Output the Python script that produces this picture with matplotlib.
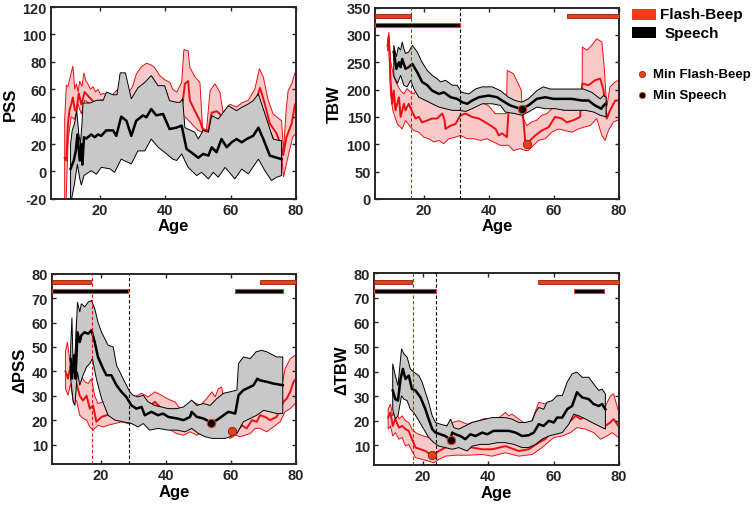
import numpy as np
import matplotlib
matplotlib.use("Agg")
import matplotlib.pyplot as plt
from matplotlib.patches import Rectangle
from matplotlib.lines import Line2D

plt.rcParams['font.family'] = ['Liberation Sans', 'DejaVu Sans']
plt.rcParams['font.weight'] = 'bold'
plt.rcParams['axes.unicode_minus'] = False

# ---------------- PSS ----------------
pss_fb_hi_age = [9.2, 9.7, 10.2, 11.0, 11.7, 12.3, 12.8, 13.3, 13.8, 14.5, 15.1, 15.7, 16.3, 17.1, 17.9, 18.6,
                 19.4, 20.2, 21.0, 22.3, 23.5, 25.0, 26.5, 28.6, 30.0, 31.1, 32.5, 34.2, 35.5, 36.7, 38.3, 39.8,
                 41.4, 42.3, 43.5, 45.0, 45.7, 47.0, 47.5, 49.1, 50.6, 51.4, 52.6, 53.7, 55.2, 56.7, 57.7, 59.8,
                 61.8, 63.4, 65.4, 67.4, 68.8, 70.0, 71.5, 73.0, 75.6, 76.2, 77.0, 77.6, 78.7, 79.7, 80.0]
pss_fb_hi = [38, 63, 62, 70, 77, 60, 64, 58, 66, 62, 72, 66, 64, 60, 62, 58,
             60, 56, 57, 56, 55, 59, 62, 57, 62, 71, 76, 79, 78, 76, 70, 67,
             65, 60, 58, 65, 89, 88, 76, 69, 65, 32, 30, 59, 64, 58, 43, 49,
             47, 50, 52, 60, 75, 69, 52, 42, 37, 15, 45, 59, 64, 72, 72]
pss_fb_mean_age = [9.2, 9.7, 10.2, 10.7, 11.2, 11.7, 12.3, 12.8, 13.5, 14.3, 15.3, 16.8, 18.4, 20.4, 23, 26, 30,
                   34, 38, 42, 45.3, 46.0, 47.0, 47.5, 49.1, 50.6, 51.6, 53.2, 54.2, 55.7, 56.7, 57.7, 60, 63, 66,
                   67.4, 69.0, 70.5, 72, 74, 75.3, 76.1, 77.1, 78.7, 79.7, 80]
pss_fb_mean = [10, 8, 35, 45, 49, 54, 45, 44, 57, 49, 58, 54, 50, 52, 50, 48, 50,
               55, 55, 50, 50, 64, 66, 52, 44, 37, 30, 30, 43, 44, 42, 38, 40, 42, 44,
               49, 61, 49, 35, 28, 20, 12, 25, 35, 49, 50]
pss_fb_lo_age = [9.2, 9.6, 9.9, 10.3, 11.2, 12.2, 13.3, 14.3, 15.3, 17.3, 19.4, 21.4, 25, 30, 35, 40, 44, 45.5,
                 46, 48, 50, 52, 53.5, 55, 57, 60, 64, 68, 70, 72, 74, 75.5, 76.2, 77.5, 79, 80]
pss_fb_lo = [-25, -25, -2, 24, 40, 38, 49, 42, 52, 49, 50, 49, 45, 40, 45, 45, 40, 40,
             40, 35, 30, 28, 28, 38, 36, 40, 45, 50, 45, 30, 20, 15, -4, 10, 25, 28]

pss_sp_hi_age = [11.0, 11.5, 12.2, 12.9, 13.5, 14.0, 14.5, 14.8, 15.5, 17.0, 19.0, 21.0, 22.0, 24.0, 25.2, 26.2,
                 27.8, 29.6, 31.6, 33.7, 35.7, 37.8, 39.8, 41.3, 43.4, 44.5, 45.3, 46.0, 49.0, 50.1, 51.6, 53.2,
                 54.2, 56.2, 59.3, 61.8, 63.4, 65.4, 66.9, 68.5, 71.5, 73.0, 75.0, 75.6]
pss_sp_hi = [20, 30, 35, 44, 28, 20, 35, 50, 50, 50, 52, 52, 58, 56, 56, 72,
             72, 53, 61, 65, 70, 62.6, 62.6, 51.7, 50.5, 50.5, 53, 32, 28.6, 23.7, 30, 28.6,
             40.8, 38.3, 48, 44.4, 46.8, 49.3, 51.7, 56.6, 34.7, 23.7, 22.5, 22.5]
pss_sp_mean_age = [11.0, 12.0, 12.6, 13.1, 13.8, 14.3, 14.6, 15.1, 15.8, 17.3, 18.4, 19.4, 20.4, 21.9, 24.0, 25.0,
                   26.5, 28.1, 29.6, 31.1, 33.2, 34.2, 35.7, 37.2, 39.3, 41.3, 43.4, 45.0, 46.5, 48.6, 50.1, 51.6,
                   53.2, 54.2, 55.7, 57.2, 58.8, 60.3, 61.8, 63.4, 64.9, 66.9, 68.5, 70.0, 72.0, 73.6, 75.6]
pss_sp_mean = [2, 8, 15, 27, 8, 20, 5, 25, 24, 27, 25, 27, 26, 30, 30, 26,
               40, 37, 26, 37, 41, 39.5, 45.6, 41, 42, 31, 32, 33.5, 16.5, 12.8, 10, 12.8,
               11.6, 17.7, 14, 23.7, 17.7, 21.3, 23.7, 21.3, 23.7, 26, 32, 23.7, 11.6, 10.4, 9]
pss_sp_lo_age = [11.0, 11.4, 12.2, 13.1, 13.8, 14.3, 15.1, 17.3, 18.9, 20.4, 23.0, 24.5, 26.5, 29.6, 31.6, 33.7,
                 35.7, 37.8, 40.3, 42.3, 43.5, 45.0, 47.0, 49.6, 51.1, 53.2, 54.7, 56.2, 58.3, 61.3, 63.4, 65.4,
                 68.5, 70.5, 72.5, 74.1, 75.6]
pss_sp_lo = [-25, -19, -9, 5.5, -5, -10, -3, 0.6, -2, 3, 2, -0.6, 9, 5.5, 15, 15,
             23.7, 17.7, 13, 9, 8, 12.8, 3, -3, -0.6, -5.4, -0.6, -4.2, 3, -5.4, 1.8, -1.8,
             9, 0.6, -6.6, -4.2, -3]

# ---------------- TBW ----------------
tbw_fb_hi_age = [8.8, 9.2, 9.7, 10.7, 11.8, 12.8, 13.8, 14.8, 15.9, 16.9, 17.9, 18.9, 20.5, 22.5, 24.6, 26.1,
                 27.6, 29.7, 31.2, 32.8, 34.8, 37.9, 39.9, 41.9, 43.9, 45.3, 45.6, 47.5, 48.5, 49.9, 50.3, 51.6,
                 53.2, 54.7, 56.2, 57.8, 59.3, 61.4, 62.9, 65.0, 67.5, 68.6, 68.7, 70.1, 71.6, 73.1, 74.7, 75.5,
                 76.2, 77.2, 78.8, 79.8, 80]
tbw_fb_hi = [290, 305, 253, 223, 208, 198, 192, 202, 195, 192, 201, 186, 183, 180, 177, 174,
             177, 174, 174, 171, 174, 177, 170, 156, 156, 156, 235, 229, 217, 199, 150, 134,
             141, 144, 153, 156, 165, 168, 162, 171, 174, 174, 278, 272, 281, 293, 287, 235,
             168, 205, 214, 217, 217]
tbw_fb_mean_age = [8.8, 9.2, 9.7, 10.2, 10.7, 11.2, 12.3, 12.8, 13.8, 14.3, 15.3, 16.4, 17.4, 18.4, 19.4, 21.0,
                   22.5, 24.0, 25.6, 26.3, 26.6, 28.2, 29.7, 31.2, 32.8, 34.8, 36.9, 38.9, 40.5, 42.0, 43.0, 44.0,
                   45.5, 46.0, 48.0, 50.0, 50.5, 51.2, 52.1, 54.2, 56.2, 58.3, 60.3, 62.4, 63.9, 66.0, 68.0, 68.7,
                   70.6, 72.6, 74.2, 75.2, 76.2, 77.2, 78.8, 79.8, 80]
tbw_fb_mean = [280, 296, 217, 174, 198, 162, 186, 150, 174, 162, 174, 159, 147, 150, 140, 143.5,
               147, 147, 156, 145, 128, 134, 137, 153, 156, 150, 147, 140, 134, 128, 116, 120,
               113, 160, 165, 165, 150, 100, 104, 116, 125, 131, 150, 147, 140, 144, 150, 211,
               208, 217, 220, 199, 147, 162, 180, 180, 180]
tbw_fb_lo_age = [8.8, 9.2, 9.7, 10.4, 11.8, 13.3, 14.3, 15.9, 16.9, 18.4, 19.9, 21.5, 23.0, 24.6, 26.1, 27.6,
                 29.7, 31.2, 33.3, 35.3, 37.4, 39.4, 41.4, 43.5, 46.0, 47.5, 49.6, 51.1, 52.1, 53.7, 55.2, 57.3,
                 59.3, 61.4, 63.4, 65.5, 67.5, 69.0, 71.1, 73.1, 74.7, 75.7, 76.7, 78.3, 79.8, 80]
tbw_fb_lo = [270, 284, 192, 162, 137, 128, 143.5, 131, 125, 122, 113, 110, 104, 107, 101, 110,
             113, 116, 110, 110, 107, 110, 104, 98, 98, 88.5, 92, 88.5, 88.5, 98, 107, 110,
             122, 128, 125, 122, 128, 131, 134, 147, 116, 107, 125, 141, 144, 144]

tbw_sp_hi_age = [10.7, 11.5, 12.1, 12.8, 13.3, 13.8, 14.3, 15.3, 16.4, 17.9, 19.4, 21.0, 22.5, 24.0, 25.1, 26.6,
                 28.7, 30.2, 31.5, 33.8, 35.8, 37.9, 41.0, 43.5, 46.0, 48.0, 50.1, 52.1, 54.7, 56.7, 58.8, 60.8,
                 63.4, 66.5, 69.0, 71.6, 74.2, 75.2, 76.0]
tbw_sp_hi = [281, 260, 278, 272, 287, 275, 266, 269, 281, 269, 250, 235, 226, 220, 214, 217,
             208, 208, 195, 192, 201, 205, 205, 198, 186, 180, 177, 183, 198, 205, 201, 201,
             201, 201, 201, 195, 183, 189, 186]
tbw_sp_mean_age = [10.7, 11.5, 12.3, 12.8, 13.3, 14.3, 15.3, 16.4, 17.9, 19.4, 21.0, 22.5, 24.6, 26.1, 28.2, 30.2,
                   31.7, 33.3, 34.8, 36.9, 39.9, 42.5, 44.0, 46.5, 48.5, 50.1, 52.1, 54.7, 57.3, 59.8, 62.4, 65.5,
                   68.5, 70.6, 72.6, 74.5, 75.7, 76.0]
tbw_sp_mean = [269, 238, 250, 241, 256, 238, 241, 247, 232, 214, 208, 198, 192, 195, 186, 183,
               177, 174, 180, 186, 189, 186, 180, 171, 167, 165, 171, 183, 186, 183, 183, 183,
               180, 180, 171, 165, 174, 174]
tbw_sp_lo_age = [10.7, 11.8, 12.8, 13.8, 14.8, 15.9, 16.9, 18.4, 20.5, 22.5, 24.6, 26.6, 28.7, 30.7, 32.8, 34.8,
                 37.9, 41.0, 43.5, 45.0, 48.0, 50.1, 52.1, 54.7, 57.3, 60.3, 63.4, 66.5, 69.6, 72.1, 74.2, 76.0]
tbw_sp_lo = [226, 211, 226, 208, 205, 217, 201, 186, 180, 174, 168, 165, 162, 162, 160, 165,
             174, 174, 171, 159, 156, 153, 159, 168, 165, 165, 162, 162, 162, 159, 153, 150]

# ---------------- dPSS ----------------
dpss_fb_hi_age = [9.1, 9.7, 10.4, 11.5, 12.2, 12.5, 13.0, 13.5, 14.0, 15.0, 16.1, 17.1, 18.1, 19.1, 20.7, 22.2,
                  23.8, 25.3, 26.8, 28.4, 30.4, 32.5, 34.5, 36.6, 38.6, 40.1, 41.7, 42.8, 44.3, 46.4, 48.4, 50.5,
                  52.5, 54.1, 55.1, 56.1, 57.1, 57.7, 60, 62.8, 64.8, 66.9, 68.4, 70.0, 72.0, 74.0, 75.1, 76.6,
                  78.2, 79.7, 80]
dpss_fb_hi = [48, 52, 45, 41, 49, 61, 53, 41, 38, 35.7, 35, 37, 30, 26.8, 27.5, 26.8,
              26, 24, 23.4, 22.7, 29.5, 31, 29.5, 31.6, 30.2, 29, 28, 27.5, 24.7, 24.7, 27.5, 26,
              28.8, 31.6, 29.5, 32.9, 33.6, 28.8, 25, 22, 24.7, 24.7, 28.2, 27.5, 24.7, 27.5, 30.2, 41,
              45.2, 46.6, 46]
dpss_fb_mean_age = [9.1, 9.9, 10.7, 11.5, 12.5, 13.5, 14.5, 15.6, 16.6, 17.6, 18.6, 20.2, 21.7, 23.2, 24.8, 26.3,
                    27.8, 30.4, 32.5, 34.5, 36.6, 38.6, 40.7, 42.7, 43.3, 45.4, 47.4, 49.5, 51.5, 53.6, 55.6, 57.7,
                    59.2, 60.4, 61.8, 63.3, 64.8, 66.4, 67.9, 68.9, 70.5, 72.0, 74.0, 76.1, 77.1, 78.2, 79.2, 80]
dpss_fb_mean = [40, 37, 42.5, 34.3, 35, 30, 28, 30, 24.7, 26, 19.3, 21.3, 22, 22.7, 22, 20.7,
                21.3, 25.4, 26.8, 25.4, 27.5, 24.7, 23.4, 21.3, 19.3, 20, 21.3, 20.7, 22, 20.7, 23.4, 20.7,
                16.6, 15.6, 15.2, 17.9, 16.6, 20, 19.3, 22, 21.3, 20, 21.3, 27.5, 28.8, 31.6, 35.7, 37]
dpss_fb_lo_age = [9.1, 9.9, 10.7, 11.5, 12.5, 13.5, 14.5, 15.6, 16.6, 17.6, 19.1, 20.7, 22.2, 24.3, 26.3, 28.4,
                  31, 34.5, 37.6, 40.7, 43.2, 45.4, 47.4, 49.5, 51.5, 53.6, 55.6, 57.7, 59.7, 61.3, 62.8, 64.3,
                  65.9, 67.4, 68.9, 71.0, 73.0, 75.1, 76.6, 78.2, 79.7, 80]
dpss_fb_lo = [33, 30.2, 35, 27.5, 28, 22, 20.7, 20, 17.2, 15.9, 17.9, 17.2, 17.9, 18.6, 19.3, 18.6,
              19, 19.3, 17.9, 16.6, 14.5, 13.8, 15.2, 13.8, 15.2, 14.5, 15.9, 14.5, 12.5, 13.8, 13.2, 13.8,
              14.5, 16.6, 16.6, 15.2, 17.2, 19.3, 23.4, 24.7, 26.8, 27]

dpss_sp_hi_age = [10.7, 11.1, 11.5, 12.0, 12.8, 13.5, 14.0, 15.0, 16.1, 17.1, 18.1, 19.1, 20.2, 21.2, 22.2, 23.8,
                  24.8, 25.8, 27.3, 28.9, 29.9, 31.4, 33.0, 34.5, 36.6, 38.6, 40.7, 43.3, 45.4, 47.9, 49.5, 51.5,
                  53.6, 55.6, 57.7, 59.7, 61.8, 62.3, 63.8, 65.9, 67.7, 69.4, 71.0, 72.0, 74.0, 75.9]
dpss_sp_hi = [50, 62, 40, 45, 68.4, 64.3, 67.7, 66.4, 68.4, 69, 65.7, 60.2, 56, 53.4, 50.7, 50,
              42.5, 39.8, 35.7, 31.6, 30.2, 29.5, 30.2, 27.5, 26, 25.4, 24.7, 24.7, 25.4, 28.2, 26, 26.8,
              26, 28.8, 31, 31.6, 32.3, 43.2, 45.9, 45.2, 48, 48.6, 48, 47.3, 45.9, 45.9]
dpss_sp_mean_age = [10.7, 11.1, 11.8, 12.2, 12.8, 13.5, 14.0, 15.0, 16.1, 17.1, 18.1, 19.1, 20.7, 21.7, 23.2, 24.8,
                    26.3, 27.8, 29.4, 30.9, 32.5, 33.5, 35.5, 37.6, 39.1, 40.7, 43.3, 45.4, 47.4, 47.9, 49.5, 51.5,
                    53.8, 55.6, 57.7, 59.2, 61.3, 62.3, 63.8, 65.9, 66.9, 68.1, 68.9, 71.0, 73.0, 75.9]
dpss_sp_mean = [45, 37, 46.6, 37, 56, 52, 54.8, 56, 55.4, 56.8, 52, 45.9, 41, 38.4, 38.4, 34.3,
                31.6, 29.5, 26, 24.7, 25.4, 22, 23.4, 22, 22.7, 21.3, 20.7, 20, 21.3, 23.4, 21.3, 20.7,
                19, 20, 22, 23.4, 22.7, 30.2, 32.3, 33.6, 34.3, 37, 36.3, 35.7, 35, 34.3]
dpss_sp_lo_age = [10.7, 11.5, 12.0, 12.8, 13.5, 14.5, 15.6, 16.6, 17.4, 18.6, 20.2, 22.2, 24.3, 26.8, 29.4, 31.4,
                  33.0, 35.0, 37.6, 40.7, 43.3, 45.9, 47.9, 50.0, 52.0, 54.1, 56.1, 58.2, 59.7, 61.8, 63.8, 65.9,
                  67.9, 70.0, 72.0, 74.0, 75.9]
dpss_sp_lo = [37, 27.5, 26, 39.8, 34.3, 38.4, 41.8, 43.2, 45.2, 37, 28.8, 22, 20, 19.3, 18.6, 17.2,
              18.6, 15.9, 16.6, 15.9, 15.9, 15.2, 16.6, 14.5, 13.2, 12.5, 12.5, 12.5, 13.2, 14.5, 19.3, 20.7,
              22, 24, 23.4, 22.7, 22.7]

# ---------------- dTBW ----------------
dtbw_fb_hi_age = [9.3, 10.0, 10.7, 11.5, 12.6, 13.6, 14.6, 15.6, 16.6, 17.7, 18.7, 20.2, 21.7, 23.3, 24.8, 26.8,
                  28.9, 30.9, 33.5, 35.0, 37.0, 39.0, 41.0, 43.0, 45.2, 46.2, 47.2, 49.3, 51.0, 53.0, 55.4, 57.4,
                  60.0, 61.5, 63.6, 65.6, 67.1, 68.7, 70.2, 71.7, 73.8, 75.8, 77.3, 78.3, 79.8, 80]
dtbw_fb_hi = [24.7, 26.8, 22, 24.7, 20.7, 22, 20, 19.3, 16.6, 15.2, 14.5, 13.8, 13.2, 13.2, 15.2, 17.9,
              19.3, 20, 18.6, 19.3, 20, 21, 20, 21, 23.4, 22, 22.7, 20.7, 19, 19, 27.5, 26.8,
              27.5, 24.7, 27.5, 30.2, 33.6, 32.9, 35, 30.2, 27.5, 26, 30, 31, 24, 23.4]
dtbw_fb_mean_age = [9.3, 10.0, 10.7, 11.5, 12.6, 13.6, 14.6, 15.6, 16.6, 17.7, 19.2, 20.7, 22.2, 23.3, 24.8, 26.8,
                    30, 35.0, 38.1, 41.1, 45.2, 49.3, 52.3, 55.4, 57.4, 60.0, 62.6, 64.6, 66.7, 68.2, 69.7, 71.7,
                    73.8, 75.8, 77.3, 78.3, 79.8, 80]
dtbw_fb_mean = [21.3, 23.4, 17.9, 20.7, 17.2, 17.9, 16.6, 15.9, 12.5, 9.1, 8.4, 7.7, 6.3, 6.3, 7.7, 9.1,
                10, 9.1, 8.4, 8.4, 9.7, 7.7, 8.4, 11.1, 12.5, 16.6, 17.9, 19.3, 22, 20.7, 22, 20,
                19.3, 17.9, 19.3, 20.7, 17.9, 18]
dtbw_fb_lo_age = [9.3, 10.0, 10.7, 11.5, 12.6, 13.6, 14.6, 15.6, 16.6, 17.7, 19.7, 21.7, 23.3, 24.8, 26.8, 30,
                  34, 38.1, 41.1, 45.2, 49.3, 53.4, 56.4, 60.0, 62.6, 65.1, 67.1, 69.7, 72.2, 74.3, 76.3, 77.9,
                  79.8, 80]
dtbw_fb_lo = [16.6, 17.9, 13.8, 15.2, 12.5, 13.2, 9.7, 10.4, 7.7, 5, 4.3, 3.6, 2.9, 4.3, 5.6, 6,
              6, 6.3, 5.6, 7, 5.6, 6.3, 9.1, 13.2, 13.8, 15.2, 17.2, 16.6, 15.2, 12.5, 13.8, 15.2,
              13.2, 13]

dtbw_sp_hi_age = [10.7, 11.5, 12.3, 13.4, 14.1, 15.1, 16.1, 17.1, 18.7, 19.7, 20.7, 21.7, 22.8, 23.8, 25.3, 27.3,
                  28.4, 29.4, 30.9, 32.9, 35.0, 37.0, 39.1, 41.1, 43.2, 45.2, 47.2, 49.3, 51.3, 53.4, 54.4, 55.4,
                  56.9, 57.9, 59.5, 61.0, 62.6, 64.1, 65.6, 67.1, 68.7, 70.7, 72.2, 73.8, 74.8, 75.8]
dtbw_sp_hi = [43.2, 38.4, 34.3, 49.3, 47.3, 45.9, 41.1, 39.8, 38.4, 35.7, 31.6, 27.5, 22, 19.3, 18.6, 17.9,
              20.7, 17.2, 16.6, 17.9, 19.3, 20, 20.7, 21.3, 21.3, 21.3, 20.7, 19.3, 19.3, 20, 23.4, 25.4,
              24.7, 27.5, 28.2, 30.2, 30.2, 35.7, 39.1, 39.8, 37.7, 37.7, 35, 32.3, 32.9, 30.9]
dtbw_sp_mean_age = [10.7, 11.5, 12.3, 13.1, 13.8, 14.6, 15.6, 16.6, 17.7, 19.2, 20.7, 21.7, 22.8, 23.8, 25.3, 26.8,
                    28.4, 28.9, 29.9, 31.4, 32.9, 34.5, 36.0, 38.1, 39.6, 41.6, 43.7, 46.2, 48.3, 50.3, 52.3, 53.9,
                    55.4, 56.9, 58.5, 60.0, 61.0, 62.6, 64.1, 65.6, 67.1, 68.7, 70.7, 72.2, 73.8, 74.8, 75.8]
dtbw_sp_mean = [32.3, 28.8, 28.2, 37, 41.1, 37, 38.4, 32.9, 32.3, 29.5, 24.7, 20.7, 16.6, 15.2, 14.5, 13.8,
                12.2, 15.2, 14.5, 13.8, 12.5, 14.5, 13.8, 15.2, 14.5, 15.9, 15.9, 15.9, 15.2, 13.8, 14.1, 15.2,
                18.6, 17.9, 20, 19.3, 21.3, 21.3, 24.7, 26, 31.6, 29.5, 28.8, 26.8, 26, 26.8, 24.7]
dtbw_sp_lo_age = [10.7, 11.5, 12.3, 13.4, 14.1, 15.1, 16.1, 17.1, 18.7, 20.2, 21.7, 23.3, 24.8, 26.8, 28.9, 30.9,
                  33.5, 35.0, 37.6, 40.1, 42.7, 45.2, 47.8, 50.3, 52.3, 54.4, 56.4, 58.5, 60.5, 62.6, 64.6, 66.1,
                  67.7, 69.7, 71.7, 73.8, 75.8]
dtbw_sp_lo = [24.7, 20.7, 22, 30.2, 28.8, 28.2, 24.7, 23.4, 20, 16.6, 13.2, 11.1, 9.7, 9.1, 8.4, 9.1,
              7.7, 9.7, 10.4, 10.4, 11.1, 11.1, 10.4, 9.1, 9.1, 10.4, 12.5, 13.8, 14.5, 15.2, 18.6, 22.7,
              22, 20.7, 19.3, 17.9, 16.6]

# significant age ranges, change points and minima
tbw_fb_sig = [(5, 16), (64, 80)]
tbw_sp_sig = [(5, 31)]
tbw_fb_cut, tbw_sp_cut = 16.1, 31.2
tbw_fb_min, tbw_sp_min = (51.8, 99.5), (50.1, 165)

dpss_fb_sig = [(5, 17.1), (68.9, 80)]
dpss_sp_sig = [(5, 28.4), (61.2, 75.9)]
dpss_fb_cut, dpss_sp_cut = 17.3, 28.6
dpss_fb_min, dpss_sp_min = (60.4, 15.6), (53.8, 19.0)

dtbw_fb_sig = [(5, 16.6), (55.1, 80)]
dtbw_sp_sig = [(5, 24), (66.3, 75.3)]
dtbw_fb_cut, dtbw_sp_cut = 16.8, 24.0
dtbw_fb_min, dtbw_sp_min = (22.6, 5.9), (28.4, 12.2)

RED = '#e81010'
PINK = '#f9c9c9'
GREY = '#c8c8c8'
BAR_RED = '#e8401c'
AXC = '#262626'


def band(ax, hi_age, hi, m_age, m, lo_age, lo, face, line, lw, z):
    xs = np.r_[hi_age, lo_age[::-1]]
    ys = np.r_[hi, lo[::-1]]
    ax.fill(xs, ys, facecolor=face, edgecolor=line, lw=0.7, zorder=z)
    ax.plot(m_age, m, color=line, lw=lw, zorder=z + 0.5)


def panel(ax, fb, sp, ylim, yticks, ylabel):
    band(ax, *fb, PINK, RED, 1.4, 1)
    band(ax, *sp, GREY, 'black', 1.8, 3)
    ax.set_xlim(5, 80)
    ax.set_ylim(*ylim)
    ax.set_xticks([20, 40, 60, 80])
    ax.set_yticks(yticks)
    ax.set_xlabel('Age', fontsize=12, fontweight='bold', labelpad=1)
    ax.set_ylabel(ylabel, fontsize=12, fontweight='bold', labelpad=3)
    ax.tick_params(direction='in', top=True, right=True, length=3, width=1,
                   labelsize=10.5, colors=AXC, pad=3)
    for lab in ax.get_xticklabels() + ax.get_yticklabels():
        lab.set_fontweight('bold')
    for s in ax.spines.values():
        s.set_linewidth(1.4)
        s.set_color(AXC)


def sig(ax, fb_sig, sp_sig, fb_cut, sp_cut, fb_min, sp_min):
    tr = ax.get_xaxis_transform()
    for a, b in fb_sig:
        ax.add_patch(Rectangle((a, 0.945), b - a, 0.02, transform=tr, facecolor=BAR_RED,
                               edgecolor='#a01808', lw=0.6, zorder=8, clip_on=False))
    for a, b in sp_sig:
        ax.add_patch(Rectangle((a, 0.898), b - a, 0.02, transform=tr, facecolor='black',
                               edgecolor=BAR_RED, lw=0.8, zorder=8, clip_on=False))
    ax.axvline(fb_cut, color=RED, ls=(0, (3, 2)), lw=0.8, zorder=7)
    ax.axvline(sp_cut, color='black', ls=(0, (3, 2)), lw=0.8, zorder=7)
    ax.plot(*fb_min, 'o', ms=6, mfc=BAR_RED, mec='#8a1a0a', mew=0.6, zorder=9)
    ax.plot(*sp_min, 'o', ms=6, mfc='black', mec=BAR_RED, mew=0.8, zorder=9)


fig = plt.figure(figsize=(7.55, 5.06), dpi=100)
ax1 = fig.add_axes([0.0675, 0.605, 0.3245, 0.379])
ax2 = fig.add_axes([0.497, 0.605, 0.323, 0.378])
ax3 = fig.add_axes([0.069, 0.081, 0.3232, 0.376])
ax4 = fig.add_axes([0.4955, 0.079, 0.3245, 0.379])

panel(ax1, (pss_fb_hi_age, pss_fb_hi, pss_fb_mean_age, pss_fb_mean, pss_fb_lo_age, pss_fb_lo),
      (pss_sp_hi_age, pss_sp_hi, pss_sp_mean_age, pss_sp_mean, pss_sp_lo_age, pss_sp_lo),
      (-20, 120), np.arange(-20, 121, 20), 'PSS')
panel(ax2, (tbw_fb_hi_age, tbw_fb_hi, tbw_fb_mean_age, tbw_fb_mean, tbw_fb_lo_age, tbw_fb_lo),
      (tbw_sp_hi_age, tbw_sp_hi, tbw_sp_mean_age, tbw_sp_mean, tbw_sp_lo_age, tbw_sp_lo),
      (0, 350), np.arange(0, 351, 50), 'TBW')
panel(ax3, (dpss_fb_hi_age, dpss_fb_hi, dpss_fb_mean_age, dpss_fb_mean, dpss_fb_lo_age, dpss_fb_lo),
      (dpss_sp_hi_age, dpss_sp_hi, dpss_sp_mean_age, dpss_sp_mean, dpss_sp_lo_age, dpss_sp_lo),
      (2, 80), np.arange(10, 81, 10), 'ΔPSS')
panel(ax4, (dtbw_fb_hi_age, dtbw_fb_hi, dtbw_fb_mean_age, dtbw_fb_mean, dtbw_fb_lo_age, dtbw_fb_lo),
      (dtbw_sp_hi_age, dtbw_sp_hi, dtbw_sp_mean_age, dtbw_sp_mean, dtbw_sp_lo_age, dtbw_sp_lo),
      (2, 80), np.arange(10, 81, 10), 'ΔTBW')

sig(ax2, tbw_fb_sig, tbw_sp_sig, tbw_fb_cut, tbw_sp_cut, tbw_fb_min, tbw_sp_min)
sig(ax3, dpss_fb_sig, dpss_sp_sig, dpss_fb_cut, dpss_sp_cut, dpss_fb_min, dpss_sp_min)
sig(ax4, dtbw_fb_sig, dtbw_sp_sig, dtbw_fb_cut, dtbw_sp_cut, dtbw_fb_min, dtbw_sp_min)

# legend
fig.add_artist(Rectangle((632 / 755, 1 - 21 / 506), 24 / 755, 11 / 506, transform=fig.transFigure,
                         facecolor='#f03a1c', edgecolor='none'))
fig.add_artist(Rectangle((632 / 755, 1 - 39 / 506), 24 / 755, 11 / 506, transform=fig.transFigure,
                         facecolor='black', edgecolor='none'))
fig.text(660 / 755, 1 - 15 / 506, 'Flash-Beep', fontsize=11, fontweight='bold', va='center', ha='left')
fig.text(665 / 755, 1 - 34 / 506, 'Speech', fontsize=11, fontweight='bold', va='center', ha='left')
fig.add_artist(Line2D([641.5 / 755], [1 - 75 / 506], marker='o', ms=4.5, mfc=BAR_RED, mec='#8a1a0a',
                      mew=0.5, transform=fig.transFigure))
fig.add_artist(Line2D([641.5 / 755], [1 - 96 / 506], marker='o', ms=4.5, mfc='black', mec=BAR_RED,
                      mew=0.6, transform=fig.transFigure))
fig.text(653 / 755, 1 - 75 / 506, 'Min Flash-Beep', fontsize=9.5, fontweight='bold', va='center', ha='left')
fig.text(653 / 755, 1 - 96 / 506, 'Min Speech', fontsize=9.5, fontweight='bold', va='center', ha='left')

fig.savefig('out.png', dpi=100)
